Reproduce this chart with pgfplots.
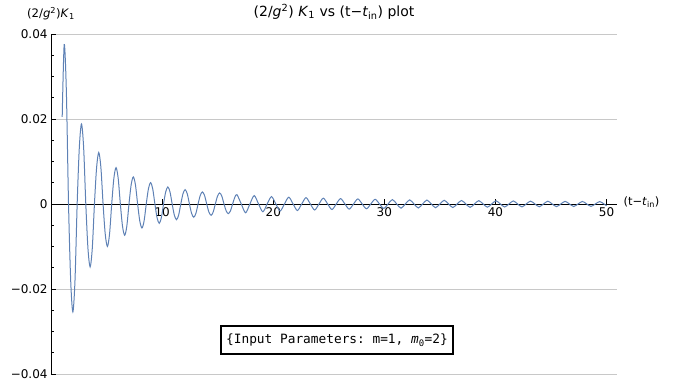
\documentclass[border=0pt]{standalone}
\usepackage{pgfplots}
\pgfplotsset{compat=1.18}
\usepackage{fontspec}
\setmainfont{DejaVu Sans}
\setmonofont{DejaVu Sans Mono}
\definecolor{mblue}{rgb}{0.368417,0.506779,0.709798}
\definecolor{gridgray}{RGB}{200,200,200}
\begin{document}
\begin{tikzpicture}[x=1pt,y=1pt]
\path[use as bounding box] (0,0) rectangle (684,385);
\begin{axis}[
  at={(46,26)}, anchor=south west,
  scale only axis, width=565.4pt, height=340pt,
  xmin=0, xmax=50.9, ymin=-0.04, ymax=0.04,
  axis x line=middle, axis y line=left,
  axis line style={-, black, line width=0.7pt},
  xtick={10,20,30,40,50}, xticklabels={10,20,30,40,50},
  ytick={-0.04,-0.02,0,0.02,0.04},
  yticklabels={−0.04,−0.02,0,0.02,0.04},
  scaled y ticks=false,
  minor y tick num=3,
  hide obscured x ticks=false, hide obscured y ticks=false,
  tick align=inside,
  major tick length=5pt, minor tick length=3pt,
  tick style={black, line width=0.6pt},
  ymajorgrids=true, grid style={gridgray, line width=0.6pt},
  ticklabel style={font=\fontsize{12}{14}\selectfont},
  /pgf/number format/assume math mode=true,
  clip=false,
]
\addplot[mblue, line width=1pt, smooth] coordinates {
(1.000,0.0205)
(1.180,0.0375) (1.374,0.02651) (1.569,0) (1.763,-0.01796)
(1.958,-0.0254) (2.152,-0.01796) (2.347,0) (2.541,0.01329)
(2.735,0.0188) (2.929,0.01329) (3.124,0) (3.318,-0.01046)
(3.513,-0.0148) (3.707,-0.01046) (3.902,0) (4.096,0.00855)
(4.290,0.0121) (4.484,0.00855) (4.679,0) (4.873,-0.00707)
(5.068,-0.0100) (5.262,-0.00707) (5.457,0) (5.651,0.00604)
(5.845,0.00855) (6.039,0.00604) (6.234,0) (6.428,-0.00521)
(6.623,-0.00737) (6.817,-0.00521) (7.012,0) (7.206,0.00449)
(7.400,0.00635) (7.594,0.00449) (7.789,0) (7.983,-0.00399)
(8.178,-0.00565) (8.372,-0.00399) (8.567,0) (8.761,0.00355)
(8.955,0.00502) (9.149,0.00355) (9.344,0) (9.538,-0.00322)
(9.733,-0.00455) (9.927,-0.00322) (10.122,0) (10.316,0.00283)
(10.510,0.0040) (10.704,0.00283) (10.899,0) (11.093,-0.00262)
(11.288,-0.0037) (11.482,-0.00262) (11.677,0) (11.871,0.00238)
(12.065,0.00337) (12.259,0.00238) (12.454,0) (12.648,-0.00221)
(12.843,-0.00313) (13.037,-0.00221) (13.232,0) (13.426,0.00199)
(13.620,0.00282) (13.814,0.00199) (14.009,0) (14.203,-0.00189)
(14.398,-0.00267) (14.592,-0.00189) (14.787,0) (14.981,0.00184)
(15.175,0.0026) (15.369,0.00184) (15.564,0) (15.758,-0.00161)
(15.953,-0.00228) (16.147,-0.00161) (16.342,0) (16.536,0.00155)
(16.730,0.00219) (17.119,0)
(17.508,-0.00207) (17.897,0)
(18.285,0.00196) (18.674,0)
(19.063,-0.00184) (19.452,0)
(19.840,0.00172) (20.229,0)
(20.618,-0.00165) (21.007,0)
(21.395,0.00159) (21.784,0)
(22.173,-0.00154) (22.562,0)
(22.950,0.00148) (23.339,0)
(23.728,-0.00142) (24.117,0)
(24.505,0.00136) (24.894,0)
(25.283,-0.00131) (25.672,0)
(26.060,0.00126) (26.449,0)
(26.838,-0.00122) (27.227,0)
(27.615,0.00118) (28.004,0)
(28.393,-0.00114) (28.782,0)
(29.170,0.00110) (29.559,0)
(29.948,-0.00105) (30.337,0)
(30.725,0.00103) (31.114,0)
(31.503,-0.00100) (31.892,0)
(32.280,0.00097) (32.669,0)
(33.058,-0.00095) (33.447,0)
(33.835,0.00092) (34.224,0)
(34.613,-0.00089) (35.002,0)
(35.390,0.00087) (35.779,0)
(36.168,-0.00085) (36.557,0)
(36.945,0.00082) (37.334,0)
(37.723,-0.00080) (38.112,0)
(38.500,0.00078) (38.889,0)
(39.278,-0.00076) (39.667,0)
(40.055,0.00074) (40.444,0)
(40.833,-0.00072) (41.222,0)
(41.610,0.00071) (41.999,0)
(42.388,-0.00069) (42.777,0)
(43.165,0.00067) (43.554,0)
(43.943,-0.00065) (44.332,0)
(44.720,0.00064) (45.109,0)
(45.498,-0.00062) (45.887,0)
(46.275,0.00061) (46.664,0)
(47.053,-0.00060) (47.442,0)
(47.830,0.00059) (48.219,0)
(48.608,-0.00057) (48.997,0)
(49.385,0.00056) (49.774,0)
(50.000,-0.00044)
};
\end{axis}
\node[font=\fontsize{14}{16}\selectfont] at (334,373) {(2/\textit{g}\textsuperscript{2}) \textit{K}\textsubscript{1} vs (t−\textit{t}\textsubscript{in}) plot};
\node[font=\fontsize{11.7}{13}\selectfont] at (51,371) {(2/\textit{g}\textsuperscript{2})\textit{K}\textsubscript{1}};
\node[font=\fontsize{11.5}{13}\selectfont, anchor=west] at (620,183) {(t−\textit{t}\textsubscript{in})};
\node[draw=black, line width=1.1pt, fill=white, minimum width=232pt, minimum height=28pt, inner sep=2pt, font=\ttfamily\fontsize{12.8}{14}\selectfont] at (337,45) {\{Input Parameters: m=1, \textit{m}\textsubscript{0}=2\}};
\end{tikzpicture}
\end{document}
